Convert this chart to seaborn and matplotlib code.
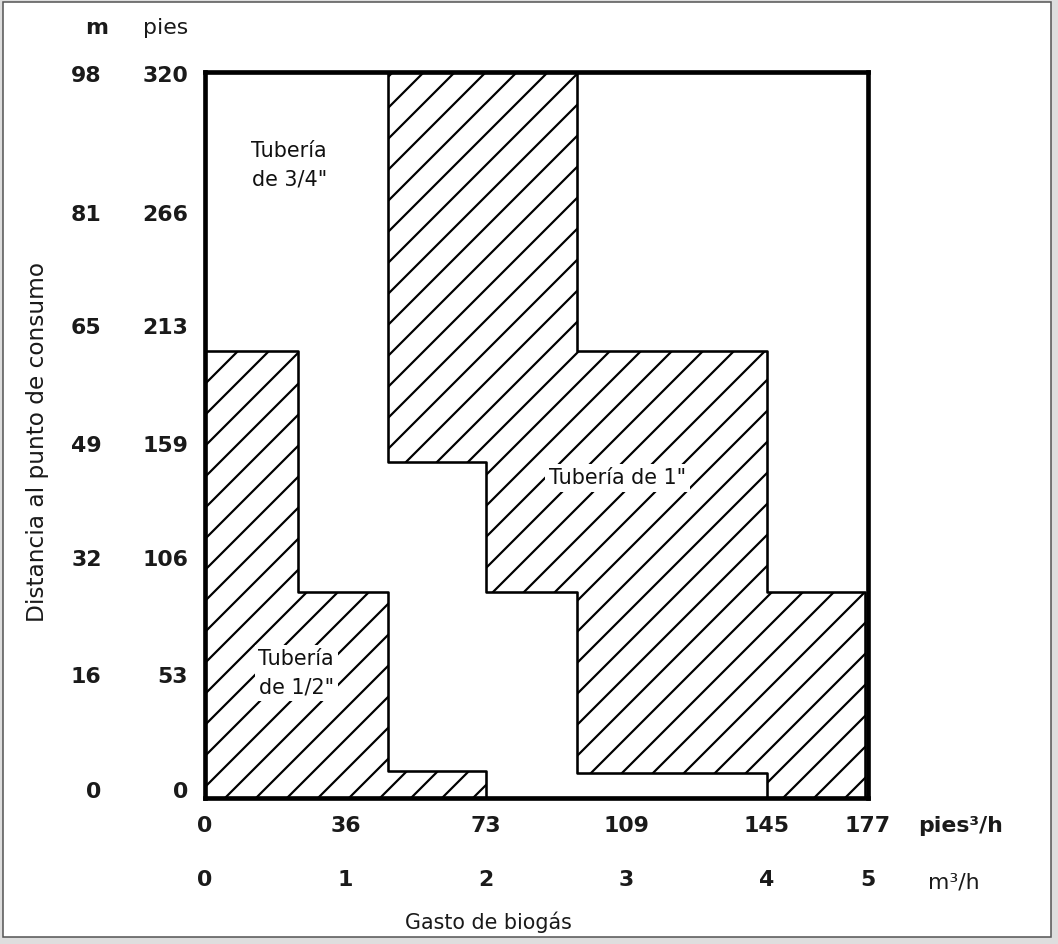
"""
Diámetro de tubería según distancia y gasto de biogás
"""
import matplotlib
matplotlib.use("Agg")
import matplotlib.pyplot as plt
from matplotlib.patches import Rectangle
import pandas as pd
import seaborn as sns

# zonas (x en m3/h, y en pies)
half_x = [0, 2.0, 2.0, 1.3, 1.3, 0.66, 0.66, 0, 0]
half_y = [0, 0, 12, 12, 91, 91, 197, 197, 0]
one_x = [1.3, 2.65, 2.65, 4.0, 4.0, 4.7, 4.7, 4.0, 4.0, 2.65, 2.65, 2.0, 2.0, 1.3, 1.3]
one_y = [320, 320, 197, 197, 91, 91, 0, 0, 11, 11, 91, 91, 148, 148, 320]

# ejes (las marcas del dibujo original no son del todo regulares)
x_max = 4.7
y_max = 320
x_tick_pos = [0, 1, 2, 3, 4, 4.72]
x_labels_pies = ["0", "36", "73", "109", "145", "177"]
x_labels_m3 = ["0", "1", "2", "3", "4", "5"]
y_tick_pos = [3.5, 54, 106, 156, 208, 258, 319]
y_labels_pies = ["0", "53", "106", "159", "213", "266", "320"]
y_labels_m = ["0", "16", "32", "49", "65", "81", "98"]

# etiquetas de zona: (texto, x, y)
zone_labels = [
    ("Tubería\nde 3/4\"", 0.60, 279),
    ("Tubería de 1\"", 2.94, 141),
    ("Tubería\nde 1/2\"", 0.65, 55),
]

sns.set_theme(style="white")
plt.rcParams["font.family"] = ["DejaVu Sans"]
plt.rcParams["hatch.linewidth"] = 0.85

W, H, DPI = 1058, 944, 186
fig = plt.figure(figsize=(W / DPI, H / DPI), dpi=DPI)
fig.patch.set_facecolor("#dedede")
fig.add_artist(Rectangle((3 / W, 7 / H), 1048 / W, 935 / H, transform=fig.transFigure,
                         facecolor="white", edgecolor="#555555", lw=0.6, zorder=-10))

ax = fig.add_axes([205 / W, 1 - 798 / H, 663 / W, 726 / H])
ax.set_facecolor("white")

# relleno rayado
for xs, ys in [(half_x, half_y), (one_x, one_y)]:
    ax.fill(xs, ys, facecolor="white", edgecolor="black", hatch="//", lw=0, zorder=2)
    df = pd.DataFrame({"x": xs, "y": ys})
    sns.lineplot(data=df, x="x", y="y", sort=False, estimator=None,
                 color="black", lw=1.0, ax=ax, zorder=3)

for text, tx, ty in zone_labels:
    ax.text(tx, ty, text, ha="center", va="center", fontsize=8, color="#111111",
            linespacing=1.5, zorder=4,
            bbox=dict(facecolor="white", edgecolor="none", pad=1.5))

ax.set_xlim(0, x_max)
ax.set_ylim(0, y_max)
ax.set_xlabel("")
ax.set_ylabel("")
for sp in ax.spines.values():
    sp.set_visible(True)
    sp.set_color("black")
    sp.set_linewidth(1.8)
    sp.set_zorder(5)

num_font = dict(fontsize=8.5, fontweight="bold", color="#1a1a1a")

ax.set_xticks(x_tick_pos, x_labels_pies, **num_font)
ax.set_yticks(y_tick_pos, y_labels_pies, **num_font)
ax.tick_params(axis="x", length=0, pad=7)
ax.tick_params(axis="y", length=0, pad=6.5)

# segunda fila: m3/h
ax_x2 = ax.twiny()
ax_x2.set_xlim(0, x_max)
ax_x2.xaxis.set_ticks_position("bottom")
ax_x2.set_xticks(x_tick_pos, x_labels_m3, **num_font)
ax_x2.tick_params(axis="x", length=0, pad=28)
for sp in ax_x2.spines.values():
    sp.set_visible(False)

# segunda columna: metros
ax_y2 = ax.twinx()
ax_y2.set_ylim(0, y_max)
ax_y2.yaxis.set_ticks_position("left")
ax_y2.set_yticks(y_tick_pos, y_labels_m, **num_font)
ax_y2.tick_params(axis="y", length=0, pad=40)
for sp in ax_y2.spines.values():
    sp.set_visible(False)

# encabezados y unidades
fig.text(97 / W, 1 - 28 / H, "m", ha="center", va="center", fontsize=8.5,
         fontweight="bold", color="#1a1a1a")
fig.text(166 / W, 1 - 28 / H, "pies", ha="center", va="center", fontsize=8.5,
         color="#1a1a1a")
fig.text(918 / W, 1 - 826 / H, "pies³/h", ha="left", va="center", fontsize=8.5,
         fontweight="bold", color="#1a1a1a")
fig.text(928 / W, 1 - 882 / H, "m³/h", ha="left", va="center", fontsize=8.5,
         color="#1a1a1a")
fig.text(488 / W, 1 - 922 / H, "Gasto de biogás", ha="center", va="center",
         fontsize=8, color="#1a1a1a")
fig.text(38 / W, 1 - 442 / H, "Distancia al punto de consumo", ha="center",
         va="center", rotation=90, fontsize=9, color="#1a1a1a")

fig.savefig("out.png", dpi=DPI)
plt.close(fig)
